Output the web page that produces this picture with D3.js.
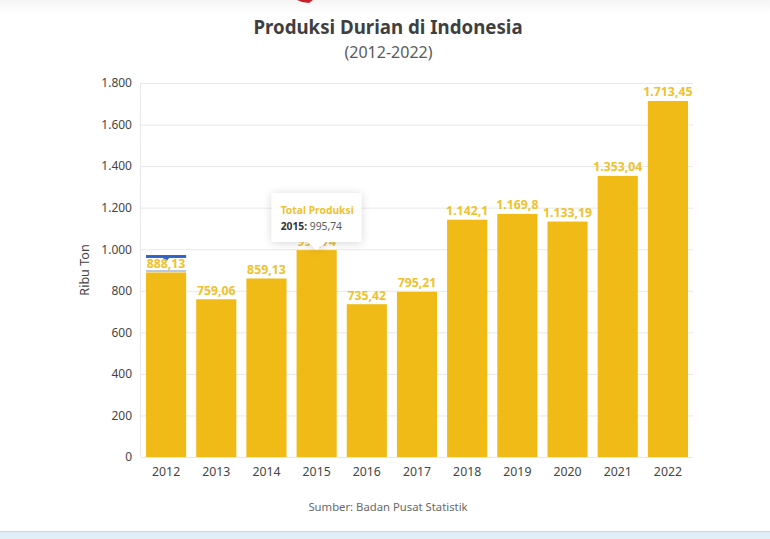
<!DOCTYPE html>
<html><head><meta charset="utf-8">
<script src="https://cdn.jsdelivr.net/npm/d3@7"></script>
<style>
html,body{margin:0;padding:0;background:#fff;}
svg{display:block;font-family:"Noto Sans",sans-serif;}
</style></head><body>
<svg id="c" width="770" height="539"></svg>
<script>
const years=["2012","2013","2014","2015","2016","2017","2018","2019","2020","2021","2022"];
const values=[888.13,759.06,859.13,995.74,735.42,795.21,1142.1,1169.8,1133.19,1353.04,1713.45];
const valueLabels=["888,13","759,06","859,13","995,74","735,42","795,21","1.142,1","1.169,8","1.133,19","1.353,04","1.713,45"];
const yTicks=[0,200,400,600,800,1000,1200,1400,1600,1800];
const yTickLabels=["0","200","400","600","800","1.000","1.200","1.400","1.600","1.800"];

const svg=d3.select("#c");
const defs=svg.append("defs");
const f=defs.append("filter").attr("id","sh").attr("x","-20%").attr("y","-20%").attr("width","140%").attr("height","150%");
f.append("feDropShadow").attr("dx",0).attr("dy",1).attr("stdDeviation",4).attr("flood-color","#000").attr("flood-opacity",0.16);
const g=defs.append("linearGradient").attr("id","top").attr("x1",0).attr("x2",0).attr("y1",0).attr("y2",1);
g.append("stop").attr("offset",0).attr("stop-color","#f5f5f5");
g.append("stop").attr("offset",1).attr("stop-color","#ffffff");

const x=d3.scaleBand().domain(years).range([141,693]).paddingInner(0.2).paddingOuter(0.1);
const y=d3.scaleLinear().domain([0,1800]).range([457,83]);

// page chrome
svg.append("rect").attr("width",770).attr("height",14).attr("fill","url(#top)");
svg.append("path").attr("d","M297 0 L313 0 L309 3 L302 2 Z").attr("fill","#c8202a");
svg.append("rect").attr("y",532).attr("width",770).attr("height",7).attr("fill","#e3eff7");
svg.append("rect").attr("y",531).attr("width",770).attr("height",1.2).attr("fill","#c3d9e6");

// titles
svg.append("text").attr("x",388).attr("y",34).attr("text-anchor","middle")
  .attr("font-size",18.7).attr("font-weight",700).attr("fill","#3f3f3f").text("Produksi Durian di Indonesia");
svg.append("text").attr("x",388.5).attr("y",58).attr("text-anchor","middle")
  .attr("font-size",16).attr("fill","#5a5a5a").text("(2012-2022)");

// grid
svg.append("g").selectAll("line").data(yTicks).join("line")
  .attr("x1",141).attr("x2",693).attr("y1",d=>y(d)+.5).attr("y2",d=>y(d)+.5)
  .attr("stroke","#e8e8e8").attr("stroke-width",1);
svg.append("line").attr("x1",140.5).attr("x2",140.5).attr("y1",83).attr("y2",457).attr("stroke","#e8e8e8");

// y axis
const ya=svg.append("g").attr("transform","translate(132,0)")
  .call(d3.axisLeft(y).tickValues(yTicks).tickSize(0).tickPadding(0).tickFormat((d,i)=>yTickLabels[i]));
ya.select(".domain").remove();
ya.selectAll("text").attr("font-size",12).attr("fill","#454545").attr("font-family",'"Noto Sans",sans-serif');

svg.append("text").attr("transform","translate(89,270) rotate(-90)").attr("text-anchor","middle")
  .attr("font-size",12.6).attr("fill","#454545").text("Ribu Ton");

// x axis
const xa=svg.append("g").attr("transform","translate(0,457)")
  .call(d3.axisBottom(x).tickSize(0).tickPadding(10));
xa.select(".domain").remove();
xa.selectAll("text").attr("font-size",12.3).attr("fill","#454545").attr("font-family",'"Noto Sans",sans-serif');

// blue screenshot artefact above the 2012 bar
const b0=x("2012"), bw=x.bandwidth();
svg.append("rect").attr("x",b0).attr("width",bw).attr("y",y(972)).attr("height",y(888)-y(972)).attr("fill","#fff");
svg.append("rect").attr("x",b0).attr("width",bw).attr("y",y(972)).attr("height",y(958)-y(972)).attr("fill","#2f62c4");
svg.append("path").attr("d",`M${b0+bw/2-3} ${y(958)} h6 l-3 4 Z`).attr("fill","#2f62c4");
svg.append("rect").attr("x",b0).attr("width",bw).attr("y",y(900)).attr("height",y(890)-y(900)).attr("fill","#b7c7e4");

// bars
svg.append("g").selectAll("rect").data(values).join("rect")
  .attr("x",(d,i)=>x(years[i])).attr("width",bw)
  .attr("y",d=>y(d)).attr("height",d=>y(0)-y(d)).attr("fill","#f0bb16");

// value labels
svg.append("g").selectAll("text").data(values).join("text")
  .attr("x",(d,i)=>x(years[i])+bw/2).attr("y",d=>y(d)-4.5)
  .attr("text-anchor","middle").attr("font-size",12.3).attr("font-weight",700).attr("fill","#eec22e")
  .text((d,i)=>valueLabels[i]);

// tooltip
const tx=x("2015")+bw/2, ty=y(995.74);
const tip=svg.append("g").attr("transform",`translate(${tx},${ty})`);
tip.append("path").attr("d","M-45 -57 H45 V-8 H9 L0 0 L-9 -8 H-45 Z").attr("fill","#fff").attr("filter","url(#sh)");
tip.append("text").attr("x",-36).attr("y",-36).attr("font-size",10.3).attr("font-weight",700).attr("fill","#eec22e").text("Total Produksi");
const t2=tip.append("text").attr("x",-36).attr("y",-20).attr("font-size",10.3).attr("fill","#5a5a5a");
t2.append("tspan").attr("font-weight",700).attr("fill","#333").text(years[3]+": ");
t2.append("tspan").text(valueLabels[3]);

// source
svg.append("text").attr("x",388).attr("y",511).attr("text-anchor","middle")
  .attr("font-size",11.3).attr("fill","#6a6a6a").text("Sumber: Badan Pusat Statistik");
</script></body></html>
